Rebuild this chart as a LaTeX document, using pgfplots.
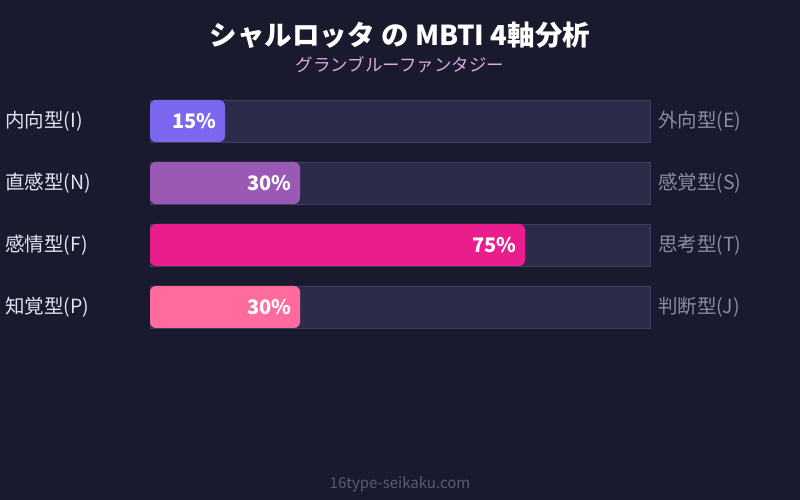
\documentclass[border=0pt]{standalone}
\usepackage{fontspec}
\setmainfont{Noto Sans CJK JP}
\usepackage{pgfplots}
\pgfplotsset{compat=1.18}

\definecolor{bg}{HTML}{1A1A2E}
\definecolor{track}{HTML}{2D2B4A}
\definecolor{trackline}{HTML}{403E62}
\definecolor{cI}{HTML}{7B68EE}
\definecolor{cN}{HTML}{9B59B6}
\definecolor{cF}{HTML}{E91E8C}
\definecolor{cP}{HTML}{FF6B9D}
\definecolor{lefttext}{HTML}{E2E2F2}
\definecolor{righttext}{HTML}{8A8AA4}
\definecolor{subtext}{HTML}{D9A9E0}
\definecolor{foot}{HTML}{5A5A78}

\begin{document}
\begin{tikzpicture}[x=1pt,y=1pt]
\fill[bg] (0,0) rectangle (800,500);
\useasboundingbox (0,0) rectangle (800,500);

% title block
\node[text=white, font=\fontsize{27.5}{32}\selectfont\bfseries] at (400,465) {シャルロッタ の MBTI 4軸分析};
\node[text=subtext, font=\fontsize{17.5}{20}\selectfont] at (400,435) {グランブルーファンタジー};
\node[text=foot, font=\fontsize{15}{18}\selectfont] at (400,16) {16type-seikaku.com};

\begin{axis}[
    at={(150pt,162pt)},
    anchor=south west,
    scale only axis,
    width=500pt,
    height=248pt,
    xmin=0, xmax=100,
    ymin=-0.5, ymax=3.5,
    y dir=reverse,
    axis lines=none,
    ticks=none,
    clip=false,
    xbar,
    bar width=42pt,
    bar shift=0pt,
    /pgf/number format/assume math mode=true,
]
% background tracks
\addplot[fill=track, draw=trackline, line width=0.8pt] coordinates
{(100,0) (100,1) (100,2) (100,3)};

% scores
\pgfplotsset{pct/.style={
    draw=none, rounded corners=6pt,
    point meta=x,
    nodes near coords={\pgfmathprintnumber{\pgfplotspointmeta}\%},
    nodes near coords style={anchor=east, xshift=-5pt, text=white,
        font=\fontsize{20}{24}\selectfont\bfseries},
}}
\addplot[pct, fill=cI] coordinates {(15,0)};
\addplot[pct, fill=cN] coordinates {(30,1)};
\addplot[pct, fill=cF] coordinates {(75,2)};
\addplot[pct, fill=cP] coordinates {(30,3)};

% side labels
\foreach \lab [count=\i from 0] in {内向型(I), 直感型(N), 感情型(F), 知覚型(P)} {
    \edef\tmp{\noexpand\node[anchor=west, text=lefttext, font=\noexpand\fontsize{19.5}{22}\noexpand\selectfont, inner sep=0pt]
        at ([xshift=-145pt]axis cs:0,\i) {\lab};}
    \tmp
}
\foreach \lab [count=\i from 0] in {外向型(E), 感覚型(S), 思考型(T), 判断型(J)} {
    \edef\tmp{\noexpand\node[anchor=west, text=righttext, font=\noexpand\fontsize{19.5}{22}\noexpand\selectfont, inner sep=0pt]
        at ([xshift=8pt]axis cs:100,\i) {\lab};}
    \tmp
}
\end{axis}
\end{tikzpicture}
\end{document}
